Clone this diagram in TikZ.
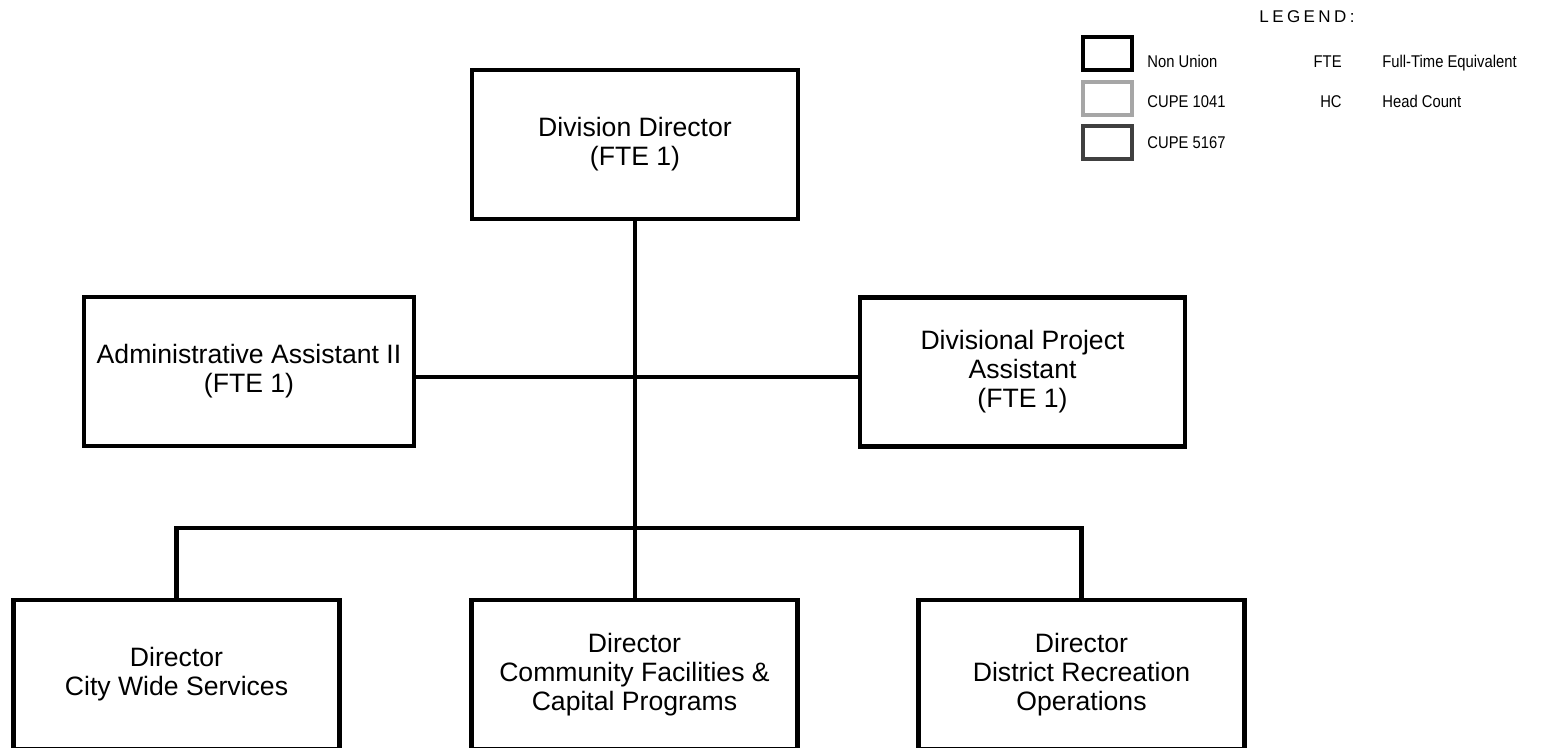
\documentclass[tikz,border=0pt]{standalone}
\usepackage{fontspec}
\setmainfont{Liberation Sans}
\newfontfamily\legfont{Liberation Sans}[FakeStretch=0.87]

\begin{document}
\begin{tikzpicture}[x=0.5pt, y=-0.5pt, font=\fontsize{13.3}{14.5}\selectfont,
    post/.style={draw, line width=2.2pt, minimum width=163pt, minimum height=74.5pt, inner sep=0pt, align=center},
    link/.style={line width=2.2pt},
    legbox/.style={draw, line width=2pt, minimum width=24.5pt, minimum height=16.5pt, inner sep=0pt},
    legtext/.style={font=\legfont\fontsize{8.5}{10}\selectfont, inner sep=0pt}
]
    \useasboundingbox (0,0) rectangle (1543,748);
    \clip (0,0) rectangle (1543,748);
    \node[post] (dd) at (635,144.5) {Division Director\\(FTE 1)};
    \node[post, minimum width=165pt] (aa) at (249,371.5) {Administrative Assistant II\\(FTE 1)};
    \node[post, minimum width=162.5pt] (dpa) at (1022.5,372) {Divisional Project\\Assistant\\(FTE 1)};
    \node[post] (cws) at (176.5,674.5) {Director\\City Wide Services};
    \node[post] (cfc) at (634.5,674.5) {Director\\Community Facilities \&\\Capital Programs};
    \node[post] (dro) at (1081.5,674.5) {Director\\District Recreation\\Operations};
    \coordinate (hub) at (635,377);
    \coordinate (bus) at (635,528);
    \draw[link] (dd.south) -- (dd.south |- cfc.north);
    \draw[link] (aa.east |- hub) -- (dpa.west |- hub);
    \draw[link] (cws.north) -- (cws.north |- bus) -- (dro.north |- bus) -- (dro.north);
    % legend
    \node[inner sep=0pt, font=\fontsize{8.5}{10}\selectfont\addfontfeature{LetterSpace=20}] (leg) at (1307,17) {LEGEND:};
    \node[legbox] (nu) at (1107.5,53.5) {};
    \node[legbox, draw=gray!70] (c1) at (1107.5,98.5) {};
    \node[legbox, draw=black!75] (c2) at (1107.5,143) {};
    \node[legtext, anchor=base west] (nut) at (1147,68) {Non Union};
    \node[legtext, anchor=base west] (c1t) at (1147,108) {CUPE 1041};
    \node[legtext, anchor=base west] (c2t) at (1147,149) {CUPE 5167};
    \node[legtext, anchor=base east] (fte) at (1342,68) {FTE};
    \node[legtext, anchor=base east] (hc) at (1342,108) {HC};
    \node[legtext, anchor=base west] (ftet) at (1382,68) {Full-Time Equivalent};
    \node[legtext, anchor=base west] (hct) at (1382,108) {Head Count};
\end{tikzpicture}
\end{document}
